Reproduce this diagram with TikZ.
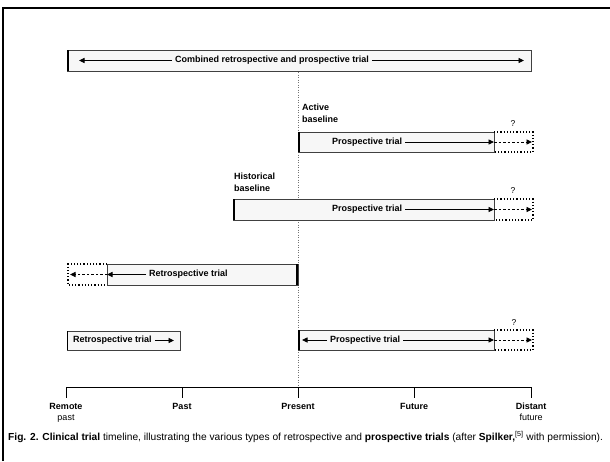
\documentclass[tikz,border=0pt]{standalone}
\usepackage{fontspec}
\setmainfont{Liberation Sans}
\usetikzlibrary{arrows.meta}
\begin{document}
\begin{tikzpicture}[x=1pt,y=-1pt,
  box/.style={draw=black!75,line width=0.7pt,fill=black!3},
  heavybar/.style={line width=2.4pt,line cap=butt},
  dotframe/.style={draw=black,line width=1.1pt,dash pattern=on 1.2pt off 2pt},
  lbl/.style={font=\fontsize{9}{10}\selectfont\bfseries,inner sep=3pt},
  tick/.style={font=\fontsize{9}{11}\selectfont,align=center,inner sep=1pt,anchor=north},
  qm/.style={font=\fontsize{8.5}{9}\selectfont,inner sep=0pt},
  base/.style={font=\fontsize{9}{11.5}\selectfont\bfseries,align=left,anchor=north west,inner sep=0pt},
  arr/.style={-{Triangle[length=5.5pt,width=5pt]},line width=0.9pt},
  darr/.style={-{Triangle[length=5.5pt,width=5pt]},line width=0.9pt,dash pattern=on 2.5pt off 2pt},
  presentline/.style={draw=black!55,line width=0.6pt,dash pattern=on 1pt off 1.5pt}]
\useasboundingbox (0,0) rectangle (610,461);
% outer frame
\draw[line width=1.8pt] (3,461) -- (3,8) -- (610,8);

% present dashed line
\coordinate (presTop) at (298,72);
\coordinate (presBot) at (298,392);
\draw[presentline] (presTop) -- (presBot);

% combined trial
\draw[box] (67,50) rectangle (531,71);
\draw[heavybar] (68,50) -- (68,71);
\node[lbl] (comb) at (272,60.5) {Combined retrospective and prospective trial};
\coordinate (combL) at (79,60.5);
\coordinate (combR) at (524,60.5);
\draw[arr] (comb.west) -- (combL);
\draw[arr] (comb.east) -- (combR);

% active baseline prospective trial
\node[base] (active) at (302,104) {Active\\baseline};
\draw[box] (298,132) rectangle (494,152);
\draw[dotframe] (494,132) -- (533,132) -- (533,152) -- (494,152);
\draw[heavybar] (299,132) -- (299,152);
\node[lbl,anchor=west] (p1) at (329,142) {Prospective trial};
\coordinate (p1e) at (494,142);
\coordinate (p1f) at (532,142);
\draw[arr] (p1.east) -- (p1e);
\draw[darr] (p1e) -- (p1f);
\node[qm] (q1) at (513,124) {?};

% historical baseline prospective trial
\node[base] (hist) at (234,173) {Historical\\baseline};
\draw[box] (233,199) rectangle (494,220);
\draw[dotframe] (494,199) -- (533,199) -- (533,220) -- (494,220);
\draw[heavybar] (234,199) -- (234,220);
\node[lbl,anchor=west] (p2) at (329,209.5) {Prospective trial};
\coordinate (p2e) at (494,209.5);
\coordinate (p2f) at (532,209.5);
\draw[arr] (p2.east) -- (p2e);
\draw[darr] (p2e) -- (p2f);
\node[qm] (q2) at (513,191) {?};

% retrospective trial (middle)
\draw[dotframe] (107,264) -- (68,264) -- (68,285) -- (107,285);
\draw[box] (107,264) rectangle (298,285);
\draw[heavybar] (297,264) -- (297,285);
\node[lbl,anchor=west] (r1) at (146,274.5) {Retrospective trial};
\coordinate (r1e) at (107,274.5);
\coordinate (r1f) at (70,274.5);
\draw[arr] (r1.west) -- (r1e);
\draw[darr] (r1e) -- (r1f);

% retrospective trial (bottom)
\draw[box] (67,331) rectangle (180,350);
\draw[line width=1.4pt] (67.5,331) -- (67.5,350);
\node[lbl,anchor=west] (r2) at (70,340.5) {Retrospective trial};
\coordinate (r2e) at (174,340.5);
\draw[arr] (r2.east) -- (r2e);

% prospective trial (bottom)
\draw[box] (298,330) rectangle (494,350);
\draw[dotframe] (494,330) -- (533,330) -- (533,350) -- (494,350);
\draw[heavybar] (299,330) -- (299,350);
\node[lbl,anchor=west] (p3) at (327,340) {Prospective trial};
\coordinate (p3w) at (302,340);
\coordinate (p3e) at (494,340);
\coordinate (p3f) at (532,340);
\draw[arr] (p3.west) -- (p3w);
\draw[arr] (p3.east) -- (p3e);
\draw[darr] (p3e) -- (p3f);
\node[qm] (q3) at (514,323) {?};

% time axis
\coordinate (ax0) at (66,387);
\coordinate (ax1) at (182,387);
\coordinate (ax2) at (298,387);
\coordinate (ax3) at (414,387);
\coordinate (ax4) at (531,387);
\draw[line width=1pt] (ax0) -- (ax4);
\foreach \t in {ax0,ax1,ax2,ax3,ax4} \draw[line width=1pt] (\t) -- ++(0,11);
\node[tick] (t0) at (66,402) {\textbf{Remote}\\past};
\node[tick] (t1) at (182,402) {\textbf{Past}};
\node[tick] (t2) at (298,402) {\textbf{Present}};
\node[tick] (t3) at (414,402) {\textbf{Future}};
\node[tick] (t4) at (531,402) {\textbf{Distant}\\future};

% caption
\node[anchor=west,inner sep=0pt,font=\fontsize{10.2}{11}\selectfont] (cap) at (8,437)
  {\textbf{Fig. 2.} \textbf{Clinical trial} timeline, illustrating the various types of retrospective and \textbf{prospective trials} (after \textbf{Spilker,}\textsuperscript{[5]} with permission).};
\end{tikzpicture}
\end{document}
